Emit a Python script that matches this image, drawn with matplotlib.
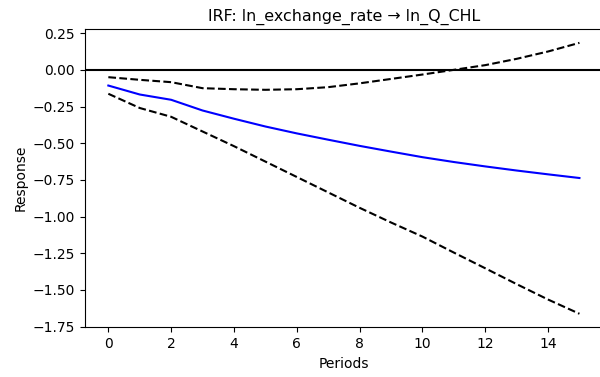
import matplotlib
matplotlib.use("Agg")
import matplotlib.pyplot as plt
import numpy as np

periods = list(range(16))
irf = [-0.107, -0.168, -0.204, -0.277, -0.333, -0.386, -0.433, -0.476, -0.518,
       -0.557, -0.595, -0.628, -0.658, -0.686, -0.712, -0.737]
upper = [-0.050, -0.068, -0.084, -0.125, -0.132, -0.136, -0.132, -0.118, -0.092,
         -0.062, -0.032, 0.000, 0.032, 0.075, 0.125, 0.184]
lower = [-0.163, -0.260, -0.320, -0.420, -0.520, -0.625, -0.730, -0.835, -0.940,
         -1.040, -1.136, -1.245, -1.352, -1.460, -1.565, -1.662]

fig = plt.figure(figsize=(6.0, 3.77), dpi=100)
ax = fig.add_axes([0.1413, 0.1318, 1.005 - 0.1413, 0.9223 - 0.1318])
ax.plot(periods, irf, color="blue", lw=1.5)
ax.plot(periods, upper, "k--", lw=1.5)
ax.plot(periods, lower, "k--", lw=1.5)
ax.axhline(0, color="black", lw=1.5)
ax.set_title("IRF: ln_exchange_rate \u2192 ln_Q_CHL", fontsize=11.4)
ax.set_xlabel("Periods")
ax.set_ylabel("Response")
ax.set_xticks(range(0, 16, 2))
fig.savefig("out.png", dpi=100)
